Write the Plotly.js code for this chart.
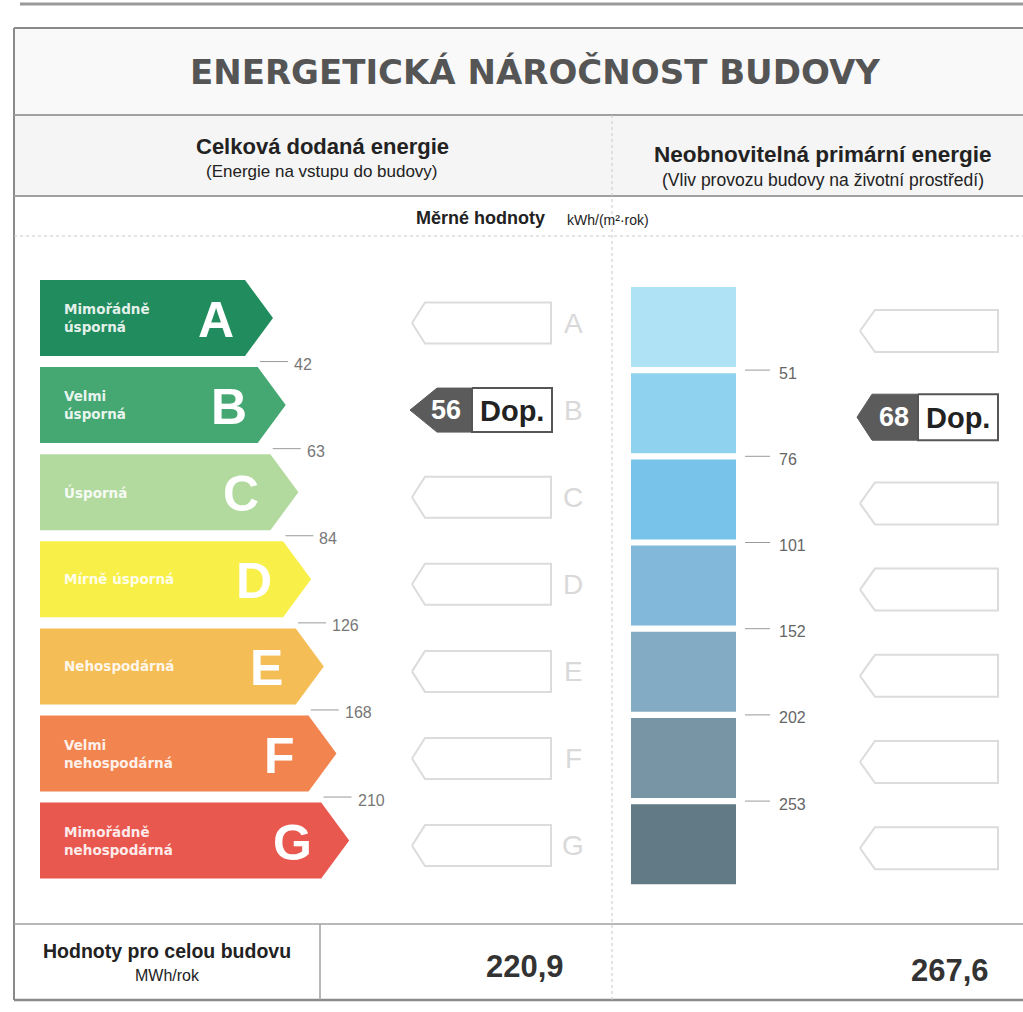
<!DOCTYPE html>
<html>
<head>
<meta charset="utf-8">
<script src="https://cdn.plot.ly/plotly-3.0.1.min.js"></script>
<style>html,body{margin:0;padding:0;background:#fff;}#chart{width:1023px;height:1012px;}</style>
</head>
<body>
<div id="chart"></div>
<script>
// ---------- DATA ----------
const classes = ['A','B','C','D','E','F','G'];
const classNames = ['Mimořádně<br>úsporná','Velmi<br>úsporná','Úsporná','Mírně úsporná','Nehospodárná','Velmi<br>nehospodárná','Mimořádně<br>nehospodárná'];
const classColors = ['#218c5d','#45a873','#b2da9f','#f8ef48','#f5bd55','#f2854f','#e9584f'];
const deliveredLimits = [42, 63, 84, 126, 168, 210];
const primaryLimits = [51, 76, 101, 152, 202, 253];
const primaryColors = ['#b0e2f5','#8ed2ef','#78c3ea','#82b8da','#84abc4','#7795a4','#617a85'];
const deliveredValue = 56, deliveredClass = 'B';
const primaryValue = 68, primaryClass = 'B';
const ratingLabel = 'Dop.';
const totalDelivered = '220,9';
const totalPrimary = '267,6';

// ---------- LAYOUT CONSTANTS (styling) ----------
const L = {x0:40, top0:280, step:87.1, h:76, tip0:273, tipStep:12.7, tipD:28};
const R = {x0:631, x1:736, top0:287, step:86.2, h:80};
const BOXL = {tip:412, body:425, right:551, hh:20.5, dy:5};
const BOXR = {tip:860, body:875, right:998, hh:21, dy:4};
const FONT = 'Liberation Sans, Arial, sans-serif';

const traces = [];
const annotations = [];
const shapes = [];

function poly(xs, ys, fill, lc, lw){
  traces.push({type:'scatter', mode:'lines', x:xs, y:ys, fill: fill ? 'toself' : 'none',
    fillcolor: fill || 'rgba(0,0,0,0)', line:{color: lc || 'rgba(0,0,0,0)', width: lw || 0},
    hoverinfo:'skip', showlegend:false});
}
function ann(x, y, text, size, color, xanchor, family){
  annotations.push({x:x, y:y, xref:'x', yref:'y', text:text, showarrow:false,
    xanchor: xanchor || 'center', yanchor:'middle', align: xanchor==='left' ? 'left' : 'center',
    font:{size:size, color:color, family: family || FONT}});
}
function line(x0,y0,x1,y1,color,width,dash){
  shapes.push({type:'line', xref:'x', yref:'y', x0:x0, y0:y0, x1:x1, y1:y1,
    line:{color:color, width:width, dash: dash || 'solid'}, layer:'below'});
}

// ---------- FRAME ----------
shapes.push({type:'rect', xref:'x', yref:'y', x0:14, y0:28, x1:1030, y1:115, fillcolor:'#f9f9f9', line:{width:0}, layer:'below'});
shapes.push({type:'rect', xref:'x', yref:'y', x0:14, y0:115, x1:1030, y1:196, fillcolor:'#f5f5f5', line:{width:0}, layer:'below'});
line(20, 4, 1023, 4, '#9a9a9a', 3);
line(14, 28, 1030, 28, '#8a8a8a', 2);
line(14, 28, 14, 1000, '#8a8a8a', 2);
line(14, 1000, 1030, 1000, '#8a8a8a', 2.5);
line(14, 115, 1030, 115, '#a0a0a0', 2);
line(14, 196, 1030, 196, '#a0a0a0', 2);
line(14, 236, 1030, 236, '#c8c8c8', 1, 'dot');
line(612, 115, 612, 1000, '#c8c8c8', 1, 'dot');
line(14, 924, 1030, 924, '#a0a0a0', 1.5);
line(320, 924, 320, 1000, '#a0a0a0', 1.5);

// ---------- HEADERS ----------
ann(535, 72, '<b>ENERGETICKÁ NÁROČNOST BUDOVY</b>', 34, '#555555', 'center', 'DejaVu Sans, sans-serif');
ann(322, 146, '<b>Celková dodaná energie</b>', 22, '#222', 'center');
ann(322, 171, '(Energie na vstupu do budovy)', 17, '#222', 'center');
ann(823, 154, '<b>Neobnovitelná primární energie</b>', 22.5, '#222', 'center');
ann(823, 180, '(Vliv provozu budovy na životní prostředí)', 17.5, '#222', 'center');
ann(547, 218, '<b>Měrné hodnoty</b>', 18, '#222', 'right');
ann(565, 220, 'kWh/(m²·rok)', 14, '#222', 'left');

// ---------- LEFT SCALE (delivered energy) ----------
const tickX = [], tickY = [];
classes.forEach((c, i) => {
  const top = L.top0 + i*L.step, bot = top + L.h, mid = (top+bot)/2;
  const tip = L.tip0 + i*L.tipStep, body = tip - L.tipD;
  poly([L.x0, body, tip, body, L.x0, L.x0], [top, top, mid, bot, bot, top], classColors[i]);
  ann(62, mid, '<b>' + classNames[i] + '</b>', 13.5, 'rgba(255,255,255,0.9)', 'left', 'DejaVu Sans, sans-serif');
  ann(tip - 57, mid + 2, '<b>' + c + '</b>', 50, '#ffffff', 'center');
  // empty indicator boxes + light letters
  const bc = mid + BOXL.dy;
  if (c !== deliveredClass) {
    poly([BOXL.tip, BOXL.body, BOXL.right, BOXL.right, BOXL.body, BOXL.tip],
         [bc, bc-BOXL.hh, bc-BOXL.hh, bc+BOXL.hh, bc+BOXL.hh, bc], null, '#dcdcdc', 2);
  } else {
    poly([BOXL.tip-2, BOXL.body+12, 472, 472, BOXL.body+12, BOXL.tip-2],
         [bc, bc-22, bc-22, bc+22, bc+22, bc], '#5b5b5b', '#5b5b5b', 1);
    poly([472, 552, 552, 472, 472], [bc-22, bc-22, bc+22, bc+22, bc-22], '#ffffff', '#555', 2);
    ann(446, bc, '<b>' + deliveredValue + '</b>', 27, '#ffffff', 'center');
    ann(512, bc + 1, '<b>' + ratingLabel + '</b>', 29, '#222', 'center');
  }
  ann(573, bc, c, 28, '#d9d9d9', 'center');
  if (i < deliveredLimits.length) {
    const y = bot + (L.step - L.h)/2;
    tickX.push(tip - 13, tip + 15, null); tickY.push(y, y, null);
    ann(tip + 19, y + 3, String(deliveredLimits[i]), 16, '#777', 'left');
  }
});
traces.push({type:'scatter', mode:'lines', x:tickX, y:tickY, line:{color:'#9a9a9a', width:1}, hoverinfo:'skip', showlegend:false});

// ---------- RIGHT SCALE (primary energy) ----------
const tickX2 = [], tickY2 = [];
primaryColors.forEach((col, i) => {
  const top = R.top0 + i*R.step, bot = top + R.h, mid = (top+bot)/2;
  poly([R.x0, R.x1, R.x1, R.x0, R.x0], [top, top, bot, bot, top], col);
  const bc = mid + BOXR.dy;
  if (classes[i] !== primaryClass) {
    poly([BOXR.tip, BOXR.body, BOXR.right, BOXR.right, BOXR.body, BOXR.tip],
         [bc, bc-BOXR.hh, bc-BOXR.hh, bc+BOXR.hh, bc+BOXR.hh, bc], null, '#dcdcdc', 2);
  } else {
    poly([857, 872, 918, 918, 872, 857], [bc, bc-23, bc-23, bc+23, bc+23, bc], '#5b5b5b', '#5b5b5b', 1);
    poly([918, 998, 998, 918, 918], [bc-23, bc-23, bc+23, bc+23, bc-23], '#ffffff', '#555', 2);
    ann(894, bc, '<b>' + primaryValue + '</b>', 27, '#ffffff', 'center');
    ann(958, bc + 1, '<b>' + ratingLabel + '</b>', 29, '#222', 'center');
  }
  if (i < primaryLimits.length) {
    const y = bot + (R.step - R.h)/2;
    tickX2.push(745, 770, null); tickY2.push(y, y, null);
    ann(777, y + 3, String(primaryLimits[i]), 16, '#666', 'left');
  }
});
traces.push({type:'scatter', mode:'lines', x:tickX2, y:tickY2, line:{color:'#9a9a9a', width:1}, hoverinfo:'skip', showlegend:false});

// ---------- TOTALS ----------
ann(167, 951, '<b>Hodnoty pro celou budovu</b>', 19.5, '#222', 'center');
ann(167, 975, 'MWh/rok', 16, '#222', 'center');
ann(566, 966, '<b>' + totalDelivered + '</b>', 31, '#333', 'right');
ann(991, 970, '<b>' + totalPrimary + '</b>', 31, '#333', 'right');

const layout = {
  width:1023, height:1012, autosize:false,
  margin:{l:0, r:0, t:0, b:0, pad:0},
  paper_bgcolor:'#ffffff', plot_bgcolor:'#ffffff',
  xaxis:{range:[0,1023], visible:false, fixedrange:true},
  yaxis:{range:[1012,0], visible:false, fixedrange:true},
  showlegend:false, shapes:shapes, annotations:annotations, hovermode:false
};
Plotly.newPlot('chart', traces, layout, {staticPlot:true, displayModeBar:false});
</script>
</body>
</html>
